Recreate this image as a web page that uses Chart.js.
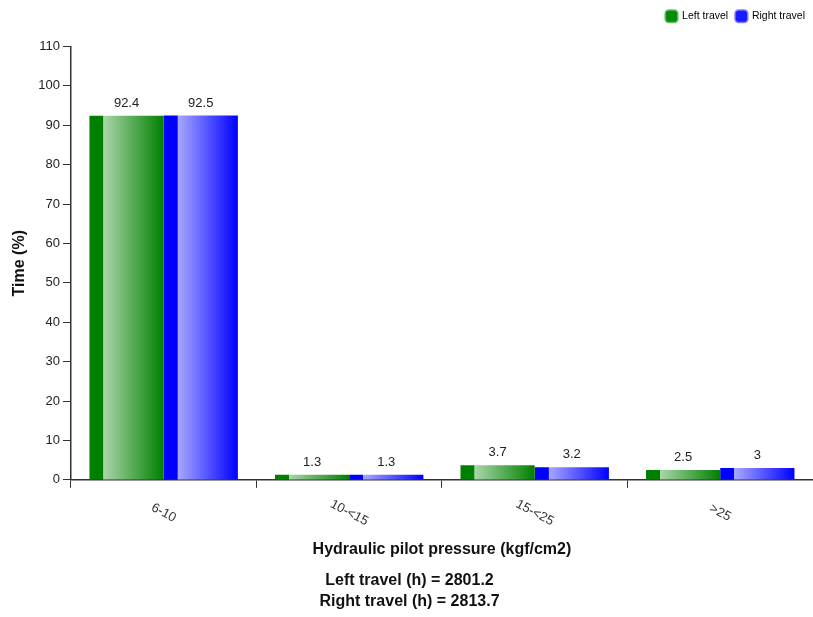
<!DOCTYPE html>
<html>
<head>
<meta charset="utf-8">
<script src="https://cdn.jsdelivr.net/npm/chart.js@4/dist/chart.umd.min.js"></script>
<style>
  html, body { margin: 0; padding: 0; background: #fff; }
  #wrap { width: 813px; height: 617px; }
</style>
</head>
<body>
<div id="wrap"><canvas id="pilot-chart"></canvas></div>
<script>
const categories = ['6-10', '10-<15', '15-<25', '>25'];
const leftTravel = [92.4, 1.3, 3.7, 2.5];
const rightTravel = [92.5, 1.3, 3.2, 3];
const yTicks = [0, 10, 20, 30, 40, 50, 60, 70, 80, 90, 100, 110];
const totalsText = ['Left travel (h) = 2801.2', 'Right travel (h) = 2813.7'];

const FONT = "'Liberation Sans', Arial, sans-serif";

// dark strip on the left, then light -> full colour across the bar
function barGradient(context, dark, light, side) {
    const chart = context.chart;
    const xScale = chart.scales.x;
    if (!chart.chartArea || !xScale || xScale.width <= 0) return dark;
    const center = xScale.getPixelForValue(context.dataIndex);
    const catW = xScale.width / categories.length;
    const barW = catW * 0.8 / 2;
    const left = side === 0 ? center - barW : center;
    if (!isFinite(left) || !isFinite(barW)) return dark;
    const g = chart.ctx.createLinearGradient(left, 0, left + barW, 0);
    g.addColorStop(0, dark);
    g.addColorStop(0.185, dark);
    g.addColorStop(0.19, light);
    g.addColorStop(1, dark);
    return g;
}

const valueLabels = {
    id: 'valueLabels',
    afterDatasetsDraw(chart) {
        const ctx = chart.ctx;
        ctx.save();
        ctx.font = '13px ' + FONT;
        ctx.fillStyle = '#222';
        ctx.textAlign = 'center';
        ctx.textBaseline = 'bottom';
        chart.data.datasets.forEach((ds, i) => {
            chart.getDatasetMeta(i).data.forEach((bar, j) => {
                ctx.fillText(String(ds.data[j]), bar.x, bar.y - 6);
            });
        });
        ctx.restore();
    }
};

const slantedTicks = {
    id: 'slantedTicks',
    afterDraw(chart) {
        const xs = chart.scales.x;
        const ctx = chart.ctx;
        ctx.save();
        ctx.font = '13px ' + FONT;
        ctx.fillStyle = '#333';
        ctx.textAlign = 'center';
        ctx.textBaseline = 'middle';
        categories.forEach((c, i) => {
            const x = xs.getPixelForValue(i);
            ctx.save();
            ctx.translate(x, xs.top + 33);
            ctx.rotate(28 * Math.PI / 180);
            ctx.fillText(c, 0, 0);
            ctx.restore();
        });
        ctx.restore();
    }
};

// extra room under the legend
const legendMargin = {
    id: 'legendMargin',
    beforeInit(chart) {
        const origFit = chart.legend.fit;
        chart.legend.fit = function () {
            origFit.bind(chart.legend)();
            this.height += 15;
        };
    }
};

const ctx = document.getElementById('pilot-chart').getContext('2d');
const pilotChart = new Chart(ctx, {
    type: 'bar',
    data: {
        labels: categories,
        datasets: [{
            label: 'Left travel',
            data: leftTravel,
            backgroundColor: c => barGradient(c, '#008000', '#a9d6a9', 0),
            borderWidth: 0,
        }, {
            label: 'Right travel',
            data: rightTravel,
            backgroundColor: c => barGradient(c, '#0000ff', '#a8a8ff', 1),
            borderWidth: 0,
        }]
    },
    options: {
        responsive: true,
        maintainAspectRatio: false,
        animation: false,
        layout: { padding: { top: 3, right: 0, left: 6, bottom: 5 } },
        datasets: {
            bar: { categoryPercentage: 0.8, barPercentage: 1.0 }
        },
        scales: {
            x: {
                grid: { display: true, offset: true, drawOnChartArea: false, drawTicks: true, tickLength: 8, color: '#333' },
                border: { display: true, color: '#333', width: 1.5 },
                ticks: { color: 'rgba(0,0,0,0)', font: { size: 12, family: FONT }, minRotation: 30, maxRotation: 30, padding: 2 },
                afterFit: scale => { scale.height += 13; },
                title: { display: true, text: 'Hydraulic pilot pressure (kgf/cm2)', color: '#111', font: { size: 16, weight: 'bold', family: FONT }, padding: { top: 4, bottom: 5 } }
            },
            y: {
                min: 0,
                max: 110,
                afterBuildTicks: scale => { scale.ticks = yTicks.map(v => ({ value: v })); },
                grid: { display: true, drawOnChartArea: false, drawTicks: true, tickLength: 8, color: '#333' },
                border: { display: true, color: '#333', width: 1.5 },
                ticks: { color: '#222', font: { size: 13, family: FONT }, padding: 3 },
                title: { display: true, text: 'Time (%)', color: '#111', font: { size: 16, weight: 'bold', family: FONT }, padding: { bottom: 6 } }
            }
        },
        plugins: {
            legend: {
                position: 'top',
                align: 'end',
                labels: {
                    font: { size: 10.5, family: FONT },
                    color: '#222',
                    boxWidth: 14,
                    boxHeight: 14,
                    padding: 8,
                    usePointStyle: true,
                    generateLabels: () => [
                        { text: 'Left travel', fillStyle: '#0a8a0a', strokeStyle: '#5cc65c', lineWidth: 1.5, pointStyle: 'rectRounded', datasetIndex: 0 },
                        { text: 'Right travel', fillStyle: '#1a1aff', strokeStyle: '#7b7bff', lineWidth: 1.5, pointStyle: 'rectRounded', datasetIndex: 1 }
                    ]
                }
            },
            title: {
                display: true,
                position: 'bottom',
                text: totalsText,
                color: '#111',
                font: { size: 16, weight: 'bold', family: FONT, lineHeight: 1.3 },
                padding: { top: 6, bottom: 0 }
            },
            tooltip: { enabled: false }
        }
    },
    plugins: [valueLabels, slantedTicks, legendMargin]
});
</script>
</body>
</html>
